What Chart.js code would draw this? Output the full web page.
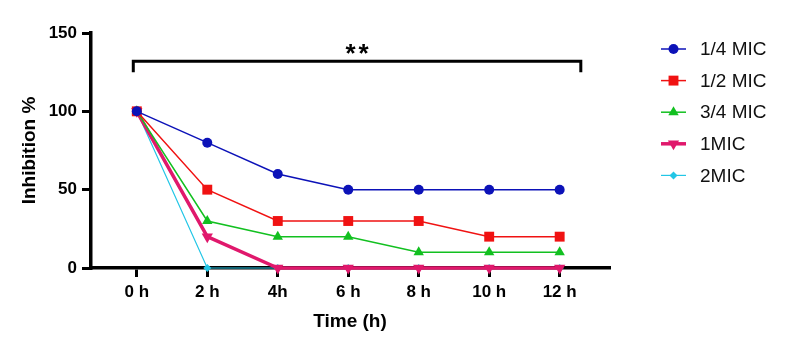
<!DOCTYPE html>
<html>
<head>
<meta charset="utf-8">
<script src="https://cdn.jsdelivr.net/npm/chart.js@4.4.1/dist/chart.umd.min.js"></script>
<style>
  html, body { margin: 0; padding: 0; background: #fff; }
  #wrap { width: 787px; height: 351px; }
</style>
</head>
<body>
<div id="wrap"><canvas id="lineChart"></canvas></div>
<script>
// time points (hours) and their tick labels
const hours = [0, 2, 4, 6, 8, 10, 12];
const hourLabels = ["0 h", "2 h", "4h", "6 h", "8 h", "10 h", "12 h"];
const yTicks = [0, 50, 100, 150];

// inhibition % per concentration
const quarterMic = [100, 80, 60, 50, 50, 50, 50];
const halfMic = [100, 50, 30, 30, 30, 20, 20];
const threeQuarterMic = [100, 30, 20, 20, 10, 10, 10];
const oneMic = [100, 20, 0, 0, 0, 0, 0];
const twoMic = [100, 0, 0, 0, 0, 0, 0];

// significance bracket over the whole time range
const bracket = { from: -0.1, to: 12.6, y: 132, drop: 125, text: "**" };

const FONT = "'Liberation Sans', Arial, sans-serif";

function toPoints(values) {
    return values.map((v, i) => ({ x: hours[i], y: v }));
}

function series(label, values, color, style, radius, width, rotation) {
    return {
        label: label,
        data: toPoints(values),
        borderColor: color,
        backgroundColor: color,
        borderWidth: width,
        pointStyle: style,
        pointRadius: radius,
        pointHoverRadius: radius,
        pointRotation: rotation || 0,
        pointBorderWidth: 0,
        tension: 0,
        clip: false,
    };
}

// draws the "**" bracket
const bracketPlugin = {
    id: "bracket",
    afterDatasetsDraw(chart) {
        const { ctx, scales } = chart;
        const x1 = scales.x.getPixelForValue(bracket.from);
        const x2 = scales.x.getPixelForValue(bracket.to);
        const y = scales.y.getPixelForValue(bracket.y);
        const yd = scales.y.getPixelForValue(bracket.drop);
        ctx.save();
        ctx.strokeStyle = "#000";
        ctx.lineWidth = 3;
        ctx.lineJoin = "miter";
        ctx.beginPath();
        ctx.moveTo(x1, yd);
        ctx.lineTo(x1, y);
        ctx.lineTo(x2, y);
        ctx.lineTo(x2, yd);
        ctx.stroke();
        ctx.fillStyle = "#000";
        ctx.font = "bold 26px " + FONT;
        ctx.textAlign = "center";
        ctx.textBaseline = "alphabetic";
        const mid = (x1 + x2) / 2;
        ctx.fillText("*", mid - 6.5, y + 1);
        ctx.fillText("*", mid + 6.5, y + 1);
        ctx.restore();
    },
};

// legend with line through marker, like the original
const legendPlugin = {
    id: "sideLegend",
    afterDraw(chart) {
        const { ctx } = chart;
        const x0 = 661, x1 = 686, textX = 700, top = 49, step = 31.6;
        ctx.save();
        chart.data.datasets.forEach((ds, i) => {
            const y = top + i * step;
            ctx.strokeStyle = ds.borderColor;
            ctx.lineWidth = ds.borderWidth;
            ctx.beginPath();
            ctx.moveTo(x0, y);
            ctx.lineTo(x1, y);
            ctx.stroke();
            ctx.fillStyle = ds.backgroundColor;
            ctx.strokeStyle = ds.borderColor;
            Chart.helpers.drawPoint(ctx, {
                pointStyle: ds.pointStyle,
                rotation: ds.pointRotation,
                radius: ds.pointRadius,
                borderWidth: 0,
            }, (x0 + x1) / 2, y);
            ctx.fillStyle = "#111";
            ctx.font = "19px " + FONT;
            ctx.textAlign = "left";
            ctx.textBaseline = "middle";
            ctx.fillText(ds.label, textX, y + 1);
        });
        ctx.restore();
    },
};

const ctx = document.getElementById("lineChart").getContext("2d");

new Chart(ctx, {
    type: "line",
    data: {
        datasets: [
            series("1/4 MIC", quarterMic, "#0c12b8", "circle", 5, 1.5),
            series("1/2 MIC", halfMic, "#f01212", "rect", 7, 1.5),
            series("3/4 MIC", threeQuarterMic, "#12c020", "triangle", 6, 1.5),
            series("1MIC", oneMic, "#e0186c", "triangle", 6.5, 3.5, 180),
            series("2MIC", twoMic, "#22c6e6", "rectRot", 4, 1.2),
        ],
    },
    options: {
        responsive: true,
        maintainAspectRatio: false,
        animation: false,
        layout: { padding: { left: 0, right: 178, top: 33, bottom: 0 } },
        plugins: {
            legend: { display: false },
            tooltip: { enabled: false },
        },
        scales: {
            x: {
                type: "linear",
                min: -1.3,
                max: 13.4,
                afterBuildTicks: (scale) => {
                    scale.ticks = hours.map((h) => ({ value: h }));
                },
                afterFit: (scale) => { scale.height = 83; },
                ticks: {
                    autoSkip: false,
                    maxRotation: 0,
                    padding: 5,
                    color: "#000",
                    font: { family: FONT, size: 17, weight: "bold" },
                    callback: (value) => hourLabels[hours.indexOf(value)],
                },
                grid: {
                    drawOnChartArea: false,
                    drawTicks: true,
                    tickLength: 9,
                    color: "#000",
                    lineWidth: 3,
                },
                border: { display: true, color: "#000", width: 3.5 },
                title: {
                    display: true,
                    text: "Time (h)",
                    color: "#000",
                    font: { family: FONT, size: 19, weight: "bold" },
                    padding: { top: 0, bottom: 18 },
                },
            },
            y: {
                min: 0,
                max: 150,
                afterBuildTicks: (scale) => {
                    scale.ticks = yTicks.map((v) => ({ value: v }));
                },
                afterFit: (scale) => { scale.width = 91; },
                ticks: {
                    padding: 5,
                    color: "#000",
                    font: { family: FONT, size: 17, weight: "bold" },
                },
                grid: {
                    drawOnChartArea: false,
                    drawTicks: true,
                    tickLength: 9,
                    color: "#000",
                    lineWidth: 3,
                },
                border: { display: true, color: "#000", width: 3.5 },
                title: {
                    display: true,
                    text: "Inhibition %",
                    color: "#000",
                    font: { family: FONT, size: 19, weight: "bold" },
                    padding: { top: 18, bottom: 0 },
                },
            },
        },
    },
    plugins: [bracketPlugin, legendPlugin],
});
</script>
</body>
</html>
